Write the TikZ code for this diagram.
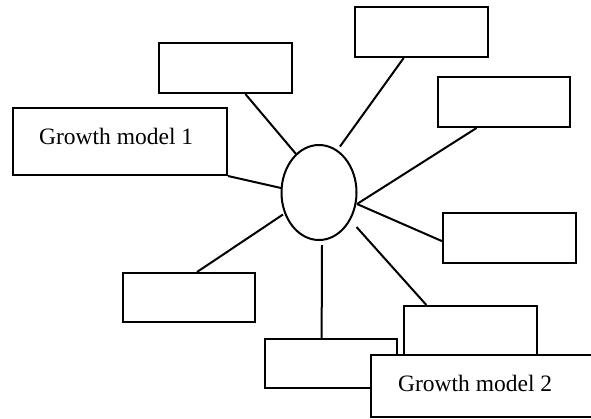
\documentclass[tikz,border=0pt]{standalone}
\usepackage{fontspec}
\setmainfont{Liberation Serif}
\usetikzlibrary{calc,shapes.geometric}
\begin{document}
\begin{tikzpicture}[x=1pt,y=-1pt,
  box/.style={draw, line width=2pt, fill=white, rectangle, inner sep=0pt, minimum width=133pt, minimum height=50pt},
  hub/.style={draw, line width=2pt, fill=white, ellipse, inner sep=0pt, minimum width=75pt, minimum height=95pt},
  link/.style={line width=2pt},
  lbl/.style={inner sep=0pt, font=\fontsize{23.5}{28}\selectfont}]
\useasboundingbox (0,0) rectangle (591,418);
\clip (0,0) rectangle (591,418);
% boxes
\node[box, minimum width=214pt, minimum height=67pt] (gm1) at (120,141.5) {};
\node[box] (tl) at (225.5,68) {};
\node[box] (tm) at (421.5,32) {};
\node[box, minimum width=132pt] (ru) at (504,102) {};
\node[box] (rm) at (509.5,238) {};
\node[box, minimum width=132pt, minimum height=49pt] (ll) at (189,297.5) {};
\node[box] (br) at (470.5,331) {};
\node[box, minimum width=132pt, minimum height=49pt] (bm) at (331,363.5) {};
\node[box, minimum width=249pt, minimum height=62pt] (gm2) at (495.5,386) {};
\node[hub] (c) at (319,192.5) {};
% labels
\node[lbl, anchor=base west] (t1) at (39,144) {Growth model 1};
\node[lbl, anchor=base west] (t2) at (398,391.7) {Growth model 2};
% free ends near the hub
\coordinate (e1) at (281,188);
\coordinate (e2) at (296,154);
\coordinate (e3) at (340,146.5);
\coordinate (e4) at (357,204);
\coordinate (e5) at (357,204);
\coordinate (e6) at (356.5,227);
\coordinate (e7) at (322,245);
\coordinate (e8) at (283,214.5);
% connectors
\draw[link] (gm1.south east) -- (e1);
\draw[link] ($(tl.south west)!0.647!(tl.south east)$) -- (e2);
\draw[link] ($(tm.south west)!0.368!(tm.south east)$) -- (e3);
\draw[link] ($(ru.south west)!0.295!(ru.south east)$) -- (e4);
\draw[link] ($(rm.north west)!0.56!(rm.south west)$) -- (e5);
\draw[link] ($(br.north west)!0.173!(br.north east)$) -- (e6);
\draw[link] ($(bm.north west)!0.43!(bm.north east)$) -- (e7);
\draw[link] ($(ll.north west)!0.56!(ll.north east)$) -- (e8);
\end{tikzpicture}
\end{document}
